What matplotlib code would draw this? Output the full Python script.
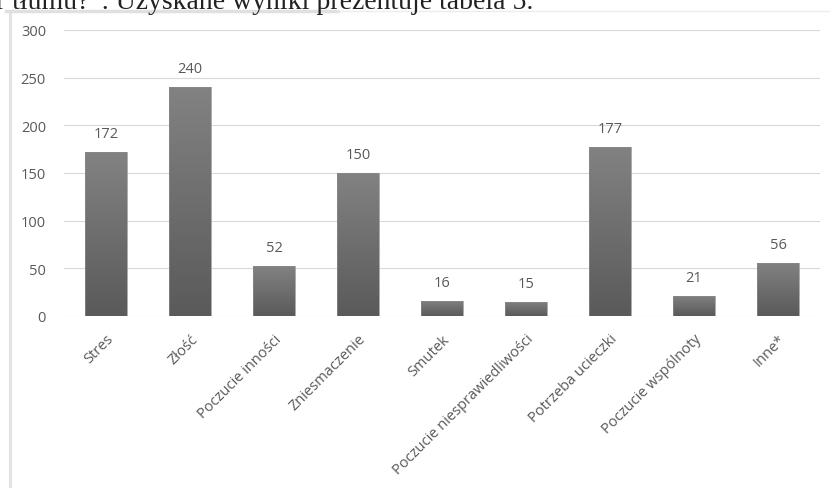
import matplotlib
matplotlib.use("Agg")
import matplotlib.pyplot as plt
import numpy as np
from matplotlib.colors import LinearSegmentedColormap
from matplotlib.patches import Rectangle
from matplotlib.lines import Line2D

categories = ["Stres", "Złość", "Poczucie inności", "Zniesmaczenie", "Smutek",
              "Poczucie niesprawiedliwości", "Potrzeba ucieczki", "Poczucie wspólnoty", "Inne*"]
values = [172, 240, 52, 150, 16, 15, 177, 21, 56]
yticks = [0, 50, 100, 150, 200, 250, 300]

W, H = 830, 489
fig = plt.figure(figsize=(W / 100, H / 100), dpi=100)
fig.patch.set_facecolor("white")

# frame of the embedded chart
fig.add_artist(Line2D([9.5 / W, 9.5 / W], [0, 1 - 12 / H], transform=fig.transFigure,
                      color="#e3e3e3", lw=2.2))
fig.add_artist(Line2D([6 / W, 338 / W], [1 - 11.5 / H, 1 - 11.5 / H], transform=fig.transFigure,
                      color="#e0e0e0", lw=2.5))
fig.add_artist(Line2D([338 / W, 1], [1 - 11.5 / H, 1 - 11.5 / H], transform=fig.transFigure,
                      color="#ececec", lw=1))

# clipped paragraph text above the chart (partly cut off at the top, as in the source)
fig.text(-4 / W, 1 - 9 / H, "r tłumu?”. Uzyskane wyniki prezentuje tabela 5.",
         family="Liberation Serif", fontsize=20, color="#222222", va="baseline", ha="left")

ax = fig.add_axes([64 / W, 1 - 317 / H, 756 / W, 286 / H])
ax.set_xlim(-0.5, len(categories) - 0.5)
ax.set_ylim(0, 300)
for s in ax.spines.values():
    s.set_visible(False)
ax.set_yticks(yticks)
ax.yaxis.grid(True, color="#d9d9d9", lw=0.8)
ax.set_axisbelow(True)
ax.tick_params(axis="both", length=0, colors="#595959")
ax.tick_params(axis="y", pad=13, labelsize=10.5)
for lab in ax.get_yticklabels():
    lab.set_family("Open Sans")

cmap = LinearSegmentedColormap.from_list("g", ["#5a5a5a", "#828282"])
grad = np.linspace(0, 1, 256).reshape(-1, 1)
bw = 0.5
x = np.arange(len(categories))
for xi, v in zip(x, values):
    im = ax.imshow(grad, cmap=cmap, aspect="auto", origin="lower",
                   extent=(xi - bw / 2, xi + bw / 2, 0, v), zorder=2)
    r = Rectangle((xi - bw / 2, 0), bw, v, facecolor="none", edgecolor="#8a8a8a", lw=0.5, zorder=3)
    ax.add_patch(r)
    im.set_clip_path(r)
    ax.annotate(str(v), (xi, v), xytext=(0, 8), textcoords="offset points",
                ha="center", va="bottom", fontsize=10.5, color="#595959", family="Open Sans")
ax.set_xlim(-0.5, len(categories) - 0.5)
ax.set_ylim(0, 300)

ax.set_xticks(x)
ax.set_xticklabels(categories, rotation=45, ha="right", va="top", rotation_mode="anchor",
                   family="Open Sans", fontsize=10.5, color="#595959")
ax.tick_params(axis="x", pad=11)

fig.savefig("out.png", dpi=100)
